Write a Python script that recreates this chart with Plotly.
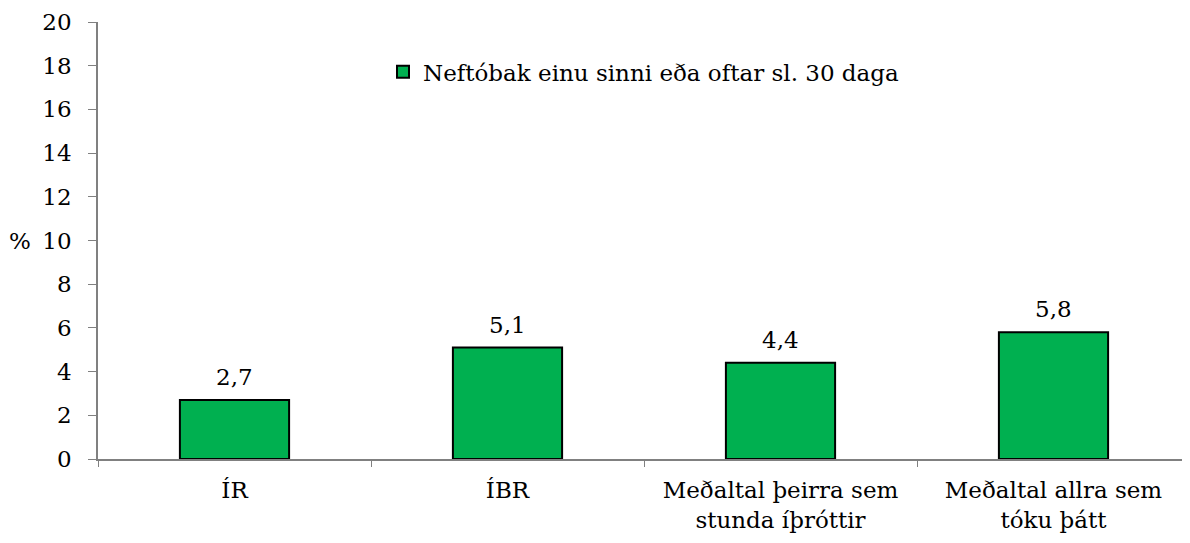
import plotly.graph_objects as go

categories = ["ÍR", "ÍBR", "Meðaltal þeirra sem<br>stunda íþróttir", "Meðaltal allra sem<br>tóku þátt"]
values = [2.7, 5.1, 4.4, 5.8]
value_labels = ["2,7", "5,1", "4,4", "5,8"]
series_name = "Neftóbak einu sinni eða oftar sl. 30 daga"
y_ticks = list(range(0, 21, 2))

FONT = "DejaVu Serif"
FS = 23

fig = go.Figure()
fig.add_trace(go.Bar(
    x=categories, y=values, name=series_name,
    marker=dict(color="#00B050", line=dict(color="black", width=2)),
    width=0.4,
))

for c, v, lab in zip(categories, values, value_labels):
    fig.add_annotation(x=c, y=v, text=lab, showarrow=False, xanchor="center",
                       yanchor="bottom", yshift=8,
                       font=dict(family=FONT, size=FS, color="black"))

fig.update_layout(
    width=1182, height=535,
    margin=dict(l=90, r=0, t=14, b=84),
    paper_bgcolor="white", plot_bgcolor="white",
    font=dict(family=FONT, size=FS, color="black"),
    showlegend=True,
    legend=dict(x=0.261, y=0.886, xanchor="left", yanchor="middle",
                bgcolor="rgba(0,0,0,0)", font=dict(family=FONT, size=FS, color="black")),
    xaxis=dict(
        type="category", tickson="boundaries", ticks="outside", ticklen=6,
        tickcolor="#808080", showline=True, linecolor="#808080", linewidth=1.5,
        showgrid=False, tickfont=dict(family=FONT, size=FS, color="black"),
        range=[-0.5, 3.5], ticklabelstandoff=10,
    ),
    yaxis=dict(
        range=[0, 20], tickvals=y_ticks, ticks="outside", ticklen=8,
        tickcolor="#808080", showline=True, linecolor="#808080", linewidth=1.5,
        showgrid=False, zeroline=False, tickfont=dict(family=FONT, size=FS, color="black"),
        ticklabelstandoff=12,
    ),
    bargap=0.6,
)

fig.add_annotation(text="%", xref="paper", yref="paper", x=-0.071, y=0.5,
                   xanchor="center", yanchor="middle", showarrow=False,
                   font=dict(family=FONT, size=FS, color="black"))

fig.write_html("out.html")
